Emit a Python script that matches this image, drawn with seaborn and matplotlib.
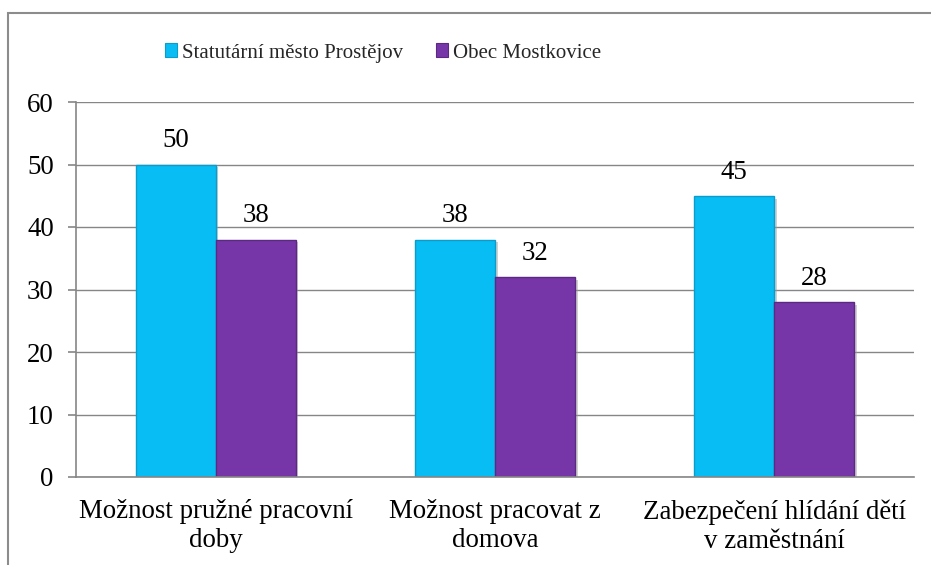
import matplotlib
matplotlib.use("Agg")
import matplotlib.pyplot as plt
import matplotlib.patheffects as pe
import seaborn as sns
import pandas as pd
from matplotlib.patches import Rectangle

categories = ["Možnost pružné pracovní\ndoby", "Možnost pracovat z\ndomova", "Zabezpečení hlídání dětí\nv zaměstnání"]
series_names = ["Statutární město Prostějov", "Obec Mostkovice"]
prostejov = [50, 38, 45]
mostkovice = [38, 32, 28]
y_ticks = [0, 10, 20, 30, 40, 50, 60]

colors = ["#08BDF4", "#7736A8"]
edges = ["#0A9CCB", "#5B2884"]

df = pd.DataFrame({
    "kategorie": categories * 2,
    "serie": [series_names[0]] * 3 + [series_names[1]] * 3,
    "hodnota": prostejov + mostkovice,
})

sns.set_theme(style="white")
FONT = "Liberation Serif"
plt.rcParams["font.family"] = FONT
FS = 19.4
FS_LEG = 15

fig = plt.figure(figsize=(9.31, 5.65), dpi=100)
ax = fig.add_axes([76 / 931, 1 - 477 / 565, (914 - 76) / 931, (477 - 102) / 565])

sns.barplot(data=df, x="kategorie", y="hodnota", hue="serie", order=categories,
            hue_order=series_names, palette=colors, width=0.573, ax=ax,
            saturation=1, legend=False, linewidth=0)

shadow = [pe.SimplePatchShadow(offset=(2, -2), shadow_rgbFace="#9a9a9a", alpha=0.45), pe.Normal()]
for i, cont in enumerate(ax.containers):
    for p in cont:
        p.set_edgecolor(edges[i])
        p.set_linewidth(1.0)
        p.set_zorder(3)
        p.set_path_effects(shadow)
    ax.bar_label(cont, labels=[f"{v:g}" for v in cont.datavalues], padding=8,
                 fontsize=FS, color="black", family=FONT)

ax.set_xlim(-0.5, 2.5)
ax.set_ylim(0, 60)
ax.set_yticks(y_ticks)
ax.set_yticklabels([str(t) for t in y_ticks], fontsize=FS, family=FONT, color="black")
ax.set_xticks([0, 1, 2])
ax.set_xticklabels(categories, fontsize=FS, linespacing=1.2, family=FONT, color="black")
ax.set_xticks([-0.5, 0.5, 1.5, 2.5], minor=True)
ax.tick_params(axis="x", which="major", length=0, pad=16)
ax.tick_params(axis="x", which="minor", length=6, width=1.2, color="#868686", direction="out")
ax.tick_params(axis="y", which="major", length=6, width=1.2, color="#868686", direction="out", pad=10, left=True)
ax.set_xlabel("")
ax.set_ylabel("")

ax.grid(axis="y", color="#868686", linewidth=1.0)
ax.set_axisbelow(True)
for s in ["top", "right"]:
    ax.spines[s].set_visible(False)
for s in ["left", "bottom"]:
    ax.spines[s].set_color("#868686")
    ax.spines[s].set_linewidth(1.2)
    ax.spines[s].set_zorder(4)

handles = [Rectangle((0, 0), 1, 1, facecolor=colors[i], edgecolor=edges[i], linewidth=0.8)
           for i in range(2)]
fig.legend(handles, series_names, loc="center", bbox_to_anchor=(383 / 931, 1 - 53 / 565),
           ncol=2, frameon=False, handlelength=0.6, handleheight=0.65,
           handletextpad=0.25, columnspacing=1.55, borderpad=0, borderaxespad=0,
           prop={"family": FONT, "size": FS_LEG})

border = Rectangle((8 / 931, -0.1), 1.2, 1 - 13 / 565 + 0.1, transform=fig.transFigure,
                   fill=False, edgecolor="#8C8C8C", linewidth=1.5)
fig.patches.append(border)

fig.savefig("out.png", dpi=100)
